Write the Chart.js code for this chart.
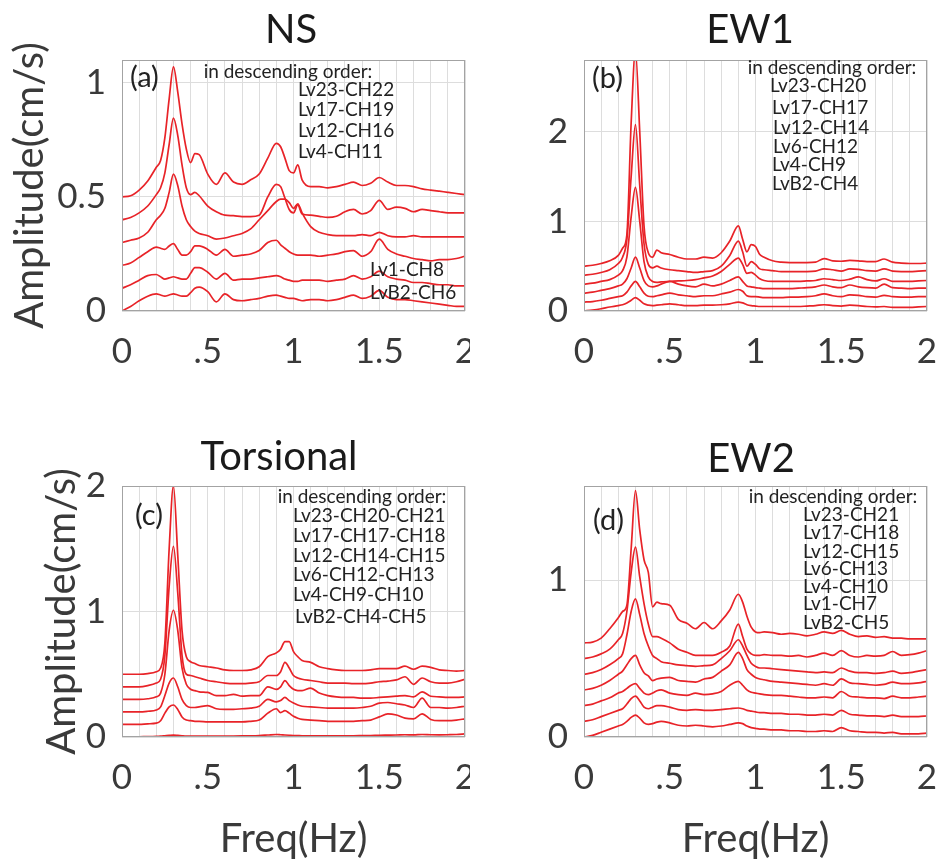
<!DOCTYPE html>
<html>
<head>
<meta charset="utf-8">
<title>Fourier spectra</title>
<script src="https://cdn.jsdelivr.net/npm/chart.js@4.4.1/dist/chart.umd.min.js"></script>
<style>
  body { margin: 0; background: #fff; }
  #wrap { position: relative; width: 939px; height: 864px; }
  #wrap canvas { position: absolute; }
</style>
</head>
<body>
<div id="wrap">
  <canvas id="ns" width="470" height="430" style="left:0;top:0"></canvas>
  <canvas id="ew1" width="469" height="430" style="left:470px;top:0"></canvas>
  <canvas id="tor" width="470" height="434" style="left:0;top:430px"></canvas>
  <canvas id="ew2" width="469" height="434" style="left:470px;top:430px"></canvas>
</div>
<script>
// frequency samples (Hz), shared by every spectrum
const freq = [0, 0.05, 0.1, 0.15, 0.2, 0.225, 0.25, 0.275, 0.3, 0.325, 0.35, 0.375, 0.4, 0.425, 0.45,
  0.5, 0.55, 0.6, 0.65, 0.7, 0.75, 0.8, 0.85, 0.9, 0.925, 0.95, 0.975, 1.0, 1.025, 1.05,
  1.1, 1.15, 1.2, 1.25, 1.3, 1.35, 1.4, 1.45, 1.5, 1.55, 1.6, 1.65, 1.7, 1.75, 1.8, 1.85, 1.9, 1.95, 2.0];

// amplitudes as plotted (cm/s), each channel stacked 0.1 above the next one down

// (a) NS
const nsChannels = ['Lv23-CH22', 'Lv17-CH19', 'Lv12-CH16', 'Lv4-CH11', 'Lv1-CH8', 'LvB2-CH6'];
const nsLv23 = [0.50, 0.505, 0.53, 0.57, 0.63, 0.66, 0.76, 0.93, 1.07, 0.96, 0.82, 0.71, 0.65, 0.69, 0.685, 0.60, 0.555, 0.605, 0.565, 0.555, 0.575, 0.60, 0.67, 0.735, 0.72, 0.67, 0.615, 0.605, 0.64, 0.575, 0.545, 0.545, 0.54, 0.545, 0.555, 0.565, 0.55, 0.56, 0.585, 0.565, 0.55, 0.55, 0.545, 0.535, 0.53, 0.525, 0.52, 0.515, 0.51];
const nsLv17 = [0.40, 0.41, 0.43, 0.46, 0.51, 0.54, 0.605, 0.73, 0.845, 0.77, 0.64, 0.54, 0.51, 0.52, 0.505, 0.46, 0.435, 0.42, 0.418, 0.414, 0.414, 0.42, 0.50, 0.555, 0.545, 0.495, 0.445, 0.43, 0.465, 0.425, 0.42, 0.415, 0.41, 0.415, 0.435, 0.445, 0.425, 0.44, 0.485, 0.445, 0.455, 0.45, 0.435, 0.445, 0.44, 0.435, 0.43, 0.43, 0.43];
const nsLv12 = [0.30, 0.31, 0.32, 0.345, 0.40, 0.42, 0.45, 0.52, 0.60, 0.55, 0.46, 0.40, 0.37, 0.35, 0.34, 0.33, 0.315, 0.32, 0.33, 0.34, 0.36, 0.40, 0.44, 0.48, 0.49, 0.49, 0.475, 0.45, 0.47, 0.43, 0.37, 0.345, 0.335, 0.33, 0.33, 0.33, 0.335, 0.33, 0.345, 0.33, 0.325, 0.325, 0.33, 0.325, 0.325, 0.325, 0.325, 0.325, 0.325];
const nsLv4 = [0.20, 0.21, 0.235, 0.26, 0.28, 0.275, 0.27, 0.285, 0.295, 0.27, 0.245, 0.245, 0.26, 0.285, 0.285, 0.27, 0.245, 0.27, 0.24, 0.245, 0.25, 0.265, 0.30, 0.31, 0.29, 0.275, 0.26, 0.25, 0.245, 0.245, 0.245, 0.24, 0.245, 0.25, 0.26, 0.265, 0.24, 0.26, 0.315, 0.27, 0.25, 0.24, 0.23, 0.225, 0.22, 0.225, 0.225, 0.23, 0.24];
const nsLv1 = [0.10, 0.115, 0.135, 0.155, 0.16, 0.15, 0.14, 0.145, 0.15, 0.145, 0.14, 0.14, 0.165, 0.19, 0.19, 0.17, 0.14, 0.165, 0.135, 0.14, 0.14, 0.145, 0.15, 0.155, 0.15, 0.14, 0.135, 0.13, 0.13, 0.135, 0.135, 0.135, 0.13, 0.135, 0.14, 0.155, 0.14, 0.15, 0.175, 0.15, 0.14, 0.135, 0.125, 0.125, 0.12, 0.115, 0.115, 0.11, 0.11];
const nsLvB2 = [0.0, 0.02, 0.045, 0.065, 0.075, 0.07, 0.065, 0.07, 0.075, 0.07, 0.065, 0.065, 0.08, 0.10, 0.105, 0.085, 0.04, 0.075, 0.05, 0.045, 0.05, 0.055, 0.065, 0.07, 0.065, 0.06, 0.055, 0.055, 0.05, 0.045, 0.05, 0.05, 0.045, 0.05, 0.06, 0.07, 0.055, 0.065, 0.09, 0.06, 0.05, 0.05, 0.045, 0.04, 0.035, 0.03, 0.025, 0.02, 0.02];

// (b) EW1
const ew1Channels = ['Lv23-CH20', 'Lv17-CH17', 'Lv12-CH14', 'Lv6-CH12', 'Lv4-CH9', 'LvB2-CH4'];
const ew1Lv23 = [0.50, 0.51, 0.53, 0.56, 0.62, 0.70, 0.85, 2.1, 2.9, 2.0, 0.95, 0.65, 0.60, 0.68, 0.65, 0.63, 0.60, 0.58, 0.58, 0.60, 0.59, 0.65, 0.78, 0.95, 0.80, 0.66, 0.74, 0.72, 0.63, 0.60, 0.56, 0.545, 0.54, 0.54, 0.54, 0.545, 0.585, 0.56, 0.555, 0.565, 0.56, 0.55, 0.55, 0.58, 0.545, 0.535, 0.53, 0.53, 0.535];
const ew1Lv17 = [0.40, 0.41, 0.43, 0.46, 0.53, 0.60, 0.80, 1.5, 2.08, 1.4, 0.75, 0.52, 0.48, 0.50, 0.48, 0.46, 0.45, 0.44, 0.43, 0.44, 0.45, 0.50, 0.62, 0.78, 0.66, 0.50, 0.55, 0.52, 0.47, 0.46, 0.45, 0.44, 0.44, 0.44, 0.44, 0.445, 0.47, 0.46, 0.445, 0.47, 0.465, 0.45, 0.445, 0.47, 0.445, 0.44, 0.44, 0.445, 0.45];
const ew1Lv12 = [0.30, 0.31, 0.33, 0.35, 0.40, 0.45, 0.60, 1.05, 1.38, 1.0, 0.55, 0.38, 0.33, 0.32, 0.325, 0.33, 0.335, 0.34, 0.35, 0.37, 0.39, 0.44, 0.52, 0.59, 0.52, 0.42, 0.43, 0.40, 0.36, 0.34, 0.33, 0.33, 0.33, 0.33, 0.335, 0.34, 0.36, 0.35, 0.34, 0.355, 0.38, 0.35, 0.335, 0.36, 0.33, 0.33, 0.33, 0.335, 0.34];
const ew1Lv6 = [0.20, 0.21, 0.23, 0.25, 0.28, 0.30, 0.36, 0.48, 0.60, 0.48, 0.34, 0.28, 0.27, 0.28, 0.30, 0.33, 0.30, 0.28, 0.27, 0.30, 0.28, 0.30, 0.34, 0.38, 0.33, 0.28, 0.27, 0.26, 0.255, 0.25, 0.25, 0.25, 0.25, 0.255, 0.26, 0.27, 0.29, 0.27, 0.26, 0.29, 0.27, 0.26, 0.255, 0.30, 0.26, 0.255, 0.25, 0.255, 0.255];
const ew1Lv4 = [0.10, 0.105, 0.12, 0.14, 0.16, 0.17, 0.21, 0.28, 0.33, 0.27, 0.20, 0.165, 0.16, 0.17, 0.18, 0.20, 0.18, 0.17, 0.16, 0.17, 0.17, 0.19, 0.21, 0.24, 0.22, 0.17, 0.16, 0.16, 0.155, 0.15, 0.15, 0.15, 0.155, 0.155, 0.16, 0.17, 0.19, 0.17, 0.16, 0.18, 0.175, 0.16, 0.155, 0.175, 0.16, 0.155, 0.155, 0.16, 0.16];
const ew1LvB2 = [0.0, 0.01, 0.025, 0.045, 0.06, 0.07, 0.09, 0.12, 0.15, 0.12, 0.08, 0.065, 0.06, 0.065, 0.07, 0.08, 0.07, 0.06, 0.06, 0.065, 0.065, 0.07, 0.08, 0.10, 0.09, 0.07, 0.06, 0.055, 0.05, 0.05, 0.05, 0.05, 0.05, 0.05, 0.055, 0.06, 0.07, 0.06, 0.055, 0.065, 0.06, 0.05, 0.045, 0.05, 0.04, 0.04, 0.04, 0.045, 0.05];

// (c) Torsional
const torChannels = ['Lv23-CH20-CH21', 'Lv17-CH17-CH18', 'Lv12-CH14-CH15', 'Lv6-CH12-CH13', 'Lv4-CH9-CH10', 'LvB2-CH4-CH5'];
const torLv23 = [0.50, 0.50, 0.50, 0.505, 0.52, 0.55, 0.75, 1.5, 2.0, 1.45, 0.85, 0.64, 0.60, 0.585, 0.57, 0.56, 0.55, 0.535, 0.53, 0.53, 0.535, 0.56, 0.64, 0.67, 0.70, 0.76, 0.76, 0.68, 0.64, 0.61, 0.595, 0.56, 0.545, 0.535, 0.53, 0.53, 0.53, 0.535, 0.545, 0.545, 0.545, 0.565, 0.54, 0.565, 0.555, 0.535, 0.53, 0.525, 0.53];
const torLv17 = [0.40, 0.40, 0.40, 0.41, 0.43, 0.46, 0.65, 1.2, 1.52, 1.15, 0.65, 0.50, 0.49, 0.48, 0.47, 0.45, 0.44, 0.43, 0.425, 0.425, 0.43, 0.44, 0.49, 0.49, 0.52, 0.595, 0.55, 0.49, 0.47, 0.46, 0.45, 0.44, 0.43, 0.43, 0.43, 0.425, 0.425, 0.43, 0.44, 0.445, 0.455, 0.48, 0.42, 0.47, 0.44, 0.43, 0.43, 0.44, 0.46];
const torLv12 = [0.30, 0.30, 0.30, 0.305, 0.32, 0.35, 0.50, 0.85, 1.01, 0.85, 0.55, 0.42, 0.38, 0.37, 0.36, 0.355, 0.33, 0.33, 0.34, 0.325, 0.33, 0.33, 0.40, 0.38, 0.40, 0.45, 0.41, 0.38, 0.37, 0.37, 0.39, 0.35, 0.33, 0.32, 0.315, 0.315, 0.31, 0.31, 0.315, 0.32, 0.325, 0.33, 0.32, 0.36, 0.325, 0.32, 0.315, 0.315, 0.32];
const torLv6 = [0.20, 0.20, 0.20, 0.205, 0.215, 0.24, 0.33, 0.43, 0.47, 0.40, 0.30, 0.25, 0.235, 0.235, 0.24, 0.25, 0.225, 0.22, 0.22, 0.225, 0.23, 0.245, 0.30, 0.28, 0.29, 0.315, 0.29, 0.27, 0.255, 0.245, 0.24, 0.235, 0.23, 0.23, 0.23, 0.23, 0.235, 0.245, 0.27, 0.275, 0.265, 0.255, 0.235, 0.31, 0.235, 0.235, 0.23, 0.235, 0.245];
const torLv4 = [0.10, 0.10, 0.10, 0.105, 0.11, 0.13, 0.19, 0.24, 0.255, 0.22, 0.16, 0.135, 0.13, 0.125, 0.125, 0.12, 0.12, 0.12, 0.12, 0.12, 0.125, 0.135, 0.19, 0.225, 0.195, 0.21, 0.19, 0.165, 0.15, 0.14, 0.135, 0.13, 0.125, 0.125, 0.125, 0.125, 0.13, 0.135, 0.16, 0.185, 0.175, 0.15, 0.145, 0.185, 0.14, 0.13, 0.13, 0.135, 0.145];
const torLvB2 = [0.0, 0.0, 0.002, 0.003, 0.005, 0.007, 0.01, 0.013, 0.015, 0.013, 0.01, 0.008, 0.008, 0.008, 0.008, 0.008, 0.007, 0.007, 0.008, 0.009, 0.01, 0.012, 0.016, 0.02, 0.018, 0.016, 0.014, 0.012, 0.011, 0.01, 0.01, 0.01, 0.01, 0.01, 0.01, 0.01, 0.011, 0.012, 0.014, 0.015, 0.016, 0.018, 0.017, 0.02, 0.018, 0.017, 0.018, 0.02, 0.025];

// (d) EW2
const ew2Channels = ['Lv23-CH21', 'Lv17-CH18', 'Lv12-CH15', 'Lv6-CH13', 'Lv4-CH10', 'Lv1-CH7', 'LvB2-CH5'];
const ew2Lv23 = [0.60, 0.605, 0.63, 0.69, 0.76, 0.80, 0.84, 1.2, 1.57, 1.32, 1.13, 1.05, 0.83, 0.86, 0.85, 0.84, 0.75, 0.725, 0.69, 0.73, 0.69, 0.74, 0.81, 0.91, 0.86, 0.77, 0.70, 0.67, 0.665, 0.67, 0.665, 0.655, 0.66, 0.655, 0.645, 0.655, 0.67, 0.66, 0.68, 0.655, 0.64, 0.645, 0.635, 0.64, 0.63, 0.63, 0.625, 0.625, 0.625];
const ew2Lv17 = [0.50, 0.51, 0.53, 0.56, 0.62, 0.66, 0.80, 1.05, 1.21, 1.02, 0.85, 0.72, 0.64, 0.64, 0.63, 0.60, 0.56, 0.54, 0.52, 0.52, 0.52, 0.54, 0.58, 0.72, 0.64, 0.56, 0.53, 0.52, 0.52, 0.525, 0.52, 0.52, 0.515, 0.52, 0.51, 0.52, 0.535, 0.52, 0.55, 0.52, 0.51, 0.52, 0.515, 0.52, 0.545, 0.52, 0.525, 0.535, 0.55];
const ew2Lv12 = [0.40, 0.41, 0.43, 0.46, 0.50, 0.53, 0.65, 0.80, 0.88, 0.78, 0.66, 0.58, 0.52, 0.50, 0.48, 0.47, 0.46, 0.455, 0.45, 0.455, 0.46, 0.50, 0.55, 0.62, 0.58, 0.52, 0.47, 0.45, 0.44, 0.44, 0.435, 0.43, 0.425, 0.42, 0.415, 0.41, 0.415, 0.41, 0.44, 0.42, 0.41, 0.41, 0.405, 0.41, 0.42, 0.405, 0.41, 0.42, 0.43];
const ew2Lv6 = [0.30, 0.31, 0.33, 0.36, 0.40, 0.42, 0.46, 0.50, 0.52, 0.46, 0.41, 0.39, 0.36, 0.37, 0.375, 0.38, 0.36, 0.355, 0.35, 0.37, 0.38, 0.42, 0.46, 0.54, 0.50, 0.43, 0.40, 0.38, 0.37, 0.365, 0.355, 0.35, 0.345, 0.34, 0.335, 0.33, 0.34, 0.33, 0.37, 0.345, 0.34, 0.335, 0.33, 0.335, 0.35, 0.34, 0.34, 0.345, 0.355];
const ew2Lv4 = [0.20, 0.21, 0.23, 0.25, 0.28, 0.29, 0.31, 0.33, 0.34, 0.31, 0.28, 0.27, 0.28, 0.295, 0.30, 0.28, 0.27, 0.265, 0.28, 0.27, 0.275, 0.29, 0.33, 0.355, 0.33, 0.30, 0.285, 0.28, 0.275, 0.27, 0.265, 0.265, 0.26, 0.255, 0.25, 0.25, 0.255, 0.25, 0.29, 0.26, 0.255, 0.25, 0.25, 0.245, 0.26, 0.25, 0.25, 0.255, 0.26];
const ew2Lv1 = [0.10, 0.11, 0.13, 0.15, 0.17, 0.18, 0.21, 0.245, 0.26, 0.23, 0.19, 0.18, 0.19, 0.20, 0.20, 0.19, 0.175, 0.17, 0.175, 0.17, 0.17, 0.175, 0.18, 0.185, 0.18, 0.17, 0.165, 0.16, 0.155, 0.155, 0.15, 0.15, 0.145, 0.145, 0.14, 0.14, 0.145, 0.14, 0.17, 0.145, 0.14, 0.135, 0.135, 0.13, 0.14, 0.13, 0.13, 0.13, 0.135];
const ew2LvB2 = [0.0, 0.01, 0.03, 0.05, 0.07, 0.08, 0.10, 0.125, 0.14, 0.12, 0.09, 0.08, 0.085, 0.095, 0.10, 0.09, 0.075, 0.07, 0.075, 0.07, 0.065, 0.07, 0.08, 0.09, 0.085, 0.07, 0.06, 0.055, 0.05, 0.05, 0.045, 0.045, 0.04, 0.04, 0.035, 0.035, 0.04, 0.035, 0.06, 0.04, 0.035, 0.03, 0.03, 0.025, 0.03, 0.02, 0.02, 0.02, 0.025];

// labelled frequency ticks
const xTickAt = [0, 0.5, 1, 1.5, 2];
const xTickText = ['0', '.5', '1', '1.5', '2'];

const RED = 'rgb(232, 35, 40)';
const GRID = '#dddddd';
const FRAME = '#a3a3a3';
const INK = '#3a3a3a';

Chart.defaults.font.family = 'Lato, "Open Sans", sans-serif';

function xTickLabel(v) {
  const i = xTickAt.findIndex(t => Math.abs(t - v) < 1e-6);
  return i < 0 ? '' : xTickText[i];
}

// box round the axes plus the panel's title, letter and channel notes
function panelDecor(p) {
  return {
    id: 'panelDecor',
    afterDraw(chart) {
      const ctx = chart.ctx;
      const a = chart.chartArea;
      ctx.save();
      ctx.strokeStyle = FRAME;
      ctx.lineWidth = 1;
      ctx.strokeRect(a.left + 0.5, a.top + 0.5, a.right - a.left - 1, a.bottom - a.top - 1);

      ctx.fillStyle = '#1a1a1a';
      ctx.textBaseline = 'alphabetic';
      ctx.textAlign = 'center';
      ctx.font = '40px Lato';
      ctx.fillText(p.title, p.titleX, p.titleY);

      ctx.fillStyle = '#222';
      ctx.textAlign = 'left';
      ctx.font = '29px Lato';
      ctx.fillText(p.tag, p.tagX, p.tagY);

      ctx.font = '19px Lato';
      ctx.textBaseline = 'middle';
      ctx.textAlign = 'center';
      ctx.fillText('in descending order:', p.headX, p.headY);
      ctx.textAlign = 'left';
      p.channels.forEach((name, i) => ctx.fillText(name, p.noteAt[i][0], p.noteAt[i][1]));
      ctx.restore();
    }
  };
}

function makePanel(id, p) {
  const datasets = p.series.map((vals, i) => ({
    label: p.channels[i],
    data: freq.map((f, k) => ({ x: f, y: vals[k] })),
    borderColor: RED,
    borderWidth: 1.7,
    pointRadius: 0,
    cubicInterpolationMode: 'monotone',
    fill: false
  }));

  new Chart(document.getElementById(id), {
    type: 'line',
    data: { datasets },
    options: {
      responsive: false,
      animation: false,
      events: [],
      layout: { padding: { top: p.areaTop, right: p.rightPad, left: 0, bottom: 0 } },
      plugins: { legend: { display: false }, tooltip: { enabled: false } },
      scales: {
        x: {
          type: 'linear',
          min: 0,
          max: 2,
          ticks: {
            stepSize: 0.1,
            autoSkip: false,
            maxRotation: 0,
            padding: 20,
            color: INK,
            font: { size: 35 },
            callback: v => xTickLabel(v)
          },
          grid: { color: GRID, drawTicks: false },
          border: { display: false },
          title: {
            display: p.xTitle,
            text: 'Freq(Hz)',
            color: INK,
            font: { size: 40 },
            padding: { top: 0, bottom: 1 }
          },
          afterFit(s) {
            s.height = p.xAxisH;
            s.paddingLeft = 0;
            s.paddingRight = 0;
          }
        },
        y: {
          min: 0,
          max: p.yMax,
          ticks: {
            stepSize: p.yStep,
            includeBounds: false,
            padding: 16,
            color: INK,
            font: { size: 35 },
            callback: v => String(Math.round(v * 10) / 10)
          },
          grid: { color: GRID, drawTicks: false },
          border: { display: false },
          title: {
            display: p.yTitle,
            text: 'Amplitude(cm/s)',
            color: INK,
            font: { size: 40 },
            padding: { top: p.yTitlePad, bottom: 0 }
          },
          afterFit(s) {
            s.width = p.yAxisW;
          }
        }
      }
    },
    plugins: [panelDecor(p)]
  });
}

makePanel('ns', {
  series: [nsLv23, nsLv17, nsLv12, nsLv4, nsLv1, nsLvB2],
  channels: nsChannels,
  noteAt: [[298, 90], [298, 110], [298, 131], [298, 152], [370, 270], [370, 293]],
  title: 'NS', titleX: 291, titleY: 43,
  tag: '(a)', tagX: 130, tagY: 87,
  headX: 288, headY: 72,
  yMax: 1.1, yStep: 0.5,
  areaTop: 60, rightPad: 5, yAxisW: 122, xAxisH: 119,
  yTitle: true, yTitlePad: 6, xTitle: false
});

makePanel('ew1', {
  series: [ew1Lv23, ew1Lv17, ew1Lv12, ew1Lv6, ew1Lv4, ew1LvB2],
  channels: ew1Channels,
  noteAt: [[300, 86], [302, 108], [303, 128], [303, 147], [302, 165], [302, 184]],
  title: 'EW1', titleX: 280, titleY: 43,
  tag: '(b)', tagX: 122, tagY: 88,
  headX: 362, headY: 68,
  yMax: 2.8, yStep: 1,
  areaTop: 60, rightPad: 12, yAxisW: 114, xAxisH: 119,
  yTitle: false, yTitlePad: 0, xTitle: false
});

makePanel('tor', {
  series: [torLv23, torLv17, torLv12, torLv6, torLv4, torLvB2],
  channels: torChannels,
  noteAt: [[293, 86], [293, 106], [293, 126], [293, 145], [293, 165], [295, 187]],
  title: 'Torsional', titleX: 279, titleY: 40,
  tag: '(c)', tagX: 135, tagY: 95,
  headX: 362, headY: 67,
  yMax: 2, yStep: 1,
  areaTop: 56, rightPad: 5, yAxisW: 122, xAxisH: 127,
  yTitle: true, yTitlePad: 38, xTitle: true
});

makePanel('ew2', {
  series: [ew2Lv23, ew2Lv17, ew2Lv12, ew2Lv6, ew2Lv4, ew2Lv1, ew2LvB2],
  channels: ew2Channels,
  noteAt: [[333, 85], [333, 103], [333, 122], [333, 139], [333, 157], [333, 174], [333, 193]],
  title: 'EW2', titleX: 281, titleY: 42,
  tag: '(d)', tagX: 123, tagY: 100,
  headX: 363, headY: 67,
  yMax: 1.6, yStep: 1,
  areaTop: 56, rightPad: 12, yAxisW: 114, xAxisH: 127,
  yTitle: false, yTitlePad: 0, xTitle: true
});
</script>
</body>
</html>
